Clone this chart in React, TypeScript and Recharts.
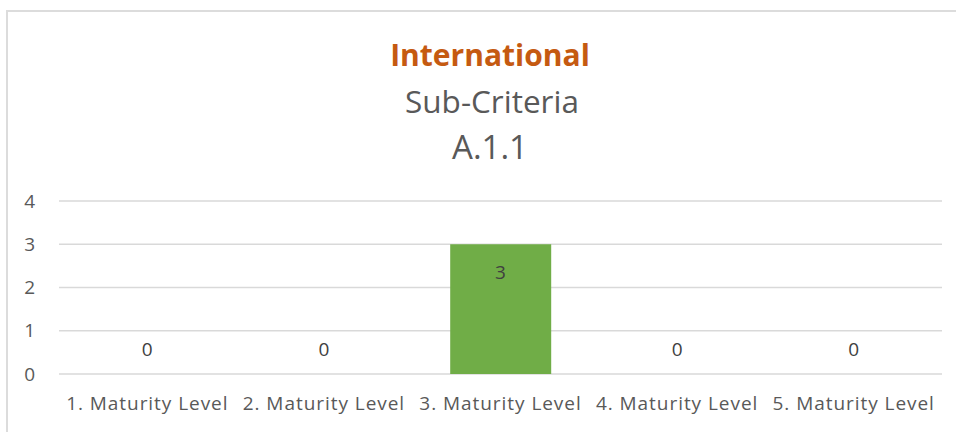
import React from "react";
import { ComposedChart, Bar, Line, XAxis, YAxis, CartesianGrid, LabelList } from "recharts";

const categories = [
  "1. Maturity Level",
  "2. Maturity Level",
  "3. Maturity Level",
  "4. Maturity Level",
  "5. Maturity Level",
];
const values = [0, 0, 3, 0, 0];
const yTicks = [0, 1, 2, 3, 4];
const titleLines = ["International", "Sub-Criteria", "A.1.1"];

const FONT = "'Open Sans', sans-serif";

const data = categories.map((name, i) => ({ name, value: values[i] }));

// Excel-style "inside end" labels: zero bars get their label above the baseline
const renderLabel = (props: any) => {
  const { x, y, value } = props;
  const cy = Number(value) === 0 ? Number(y) - 25 : Number(y) + 28;
  return (
    <text
      x={Number(x)}
      y={cy}
      textAnchor="middle"
      dominantBaseline="central"
      fill="#404040"
      fontSize={19}
      fontFamily={FONT}
    >
      {value}
    </text>
  );
};

export default function App() {
  return (
    <div
      style={{
        position: "absolute",
        left: 0,
        top: 0,
        width: 956,
        height: 432,
        overflow: "hidden",
        background: "#fff",
        fontFamily: FONT,
      }}
    >
      <div
        style={{
          position: "absolute",
          left: 6,
          top: 10,
          width: 1000,
          height: 1000,
          borderTop: "2px solid #dcdcdc",
          borderLeft: "2px solid #dcdcdc",
        }}
      />
      <svg
        width={956}
        height={200}
        style={{ position: "absolute", left: 0, top: 0 }}
      >
        <text x={490} y={66} textAnchor="middle" fontSize={30} fontWeight={700} fill="#c55a11" fontFamily={FONT}>
          {titleLines[0]}
        </text>
        <text x={492} y={113} textAnchor="middle" fontSize={31.5} fill="#595959" fontFamily={FONT}>
          {titleLines[1]}
        </text>
        <text x={490} y={159} textAnchor="middle" fontSize={33} fill="#595959" fontFamily={FONT}>
          {titleLines[2]}
        </text>
      </svg>
      <div style={{ position: "absolute", left: 0, top: 0 }}>
        <ComposedChart
          width={956}
          height={432}
          data={data}
          margin={{ top: 201, right: 14, bottom: 0, left: 0 }}
        >
          <CartesianGrid vertical={false} stroke="#d9d9d9" strokeWidth={1.3} />
          <XAxis
            dataKey="name"
            axisLine={false}
            tickLine={false}
            interval={0}
            height={58}
            tickSize={0}
            tickMargin={23}
            tick={{ fill: "#595959", fontSize: 19, fontFamily: FONT, letterSpacing: 0.95 }}
          />
          <YAxis
            domain={[0, 4]}
            ticks={yTicks}
            axisLine={false}
            tickLine={false}
            width={59}
            tickSize={0}
            tickMargin={24}
            tick={{ fill: "#595959", fontSize: 19, fontFamily: FONT }}
          />
          <Bar dataKey="value" fill="#70ad47" barSize={101} isAnimationActive={false} />
          <Line
            dataKey="value"
            stroke="none"
            dot={false}
            activeDot={false}
            legendType="none"
            isAnimationActive={false}
          >
            <LabelList dataKey="value" content={renderLabel} />
          </Line>
        </ComposedChart>
      </div>
    </div>
  );
}
